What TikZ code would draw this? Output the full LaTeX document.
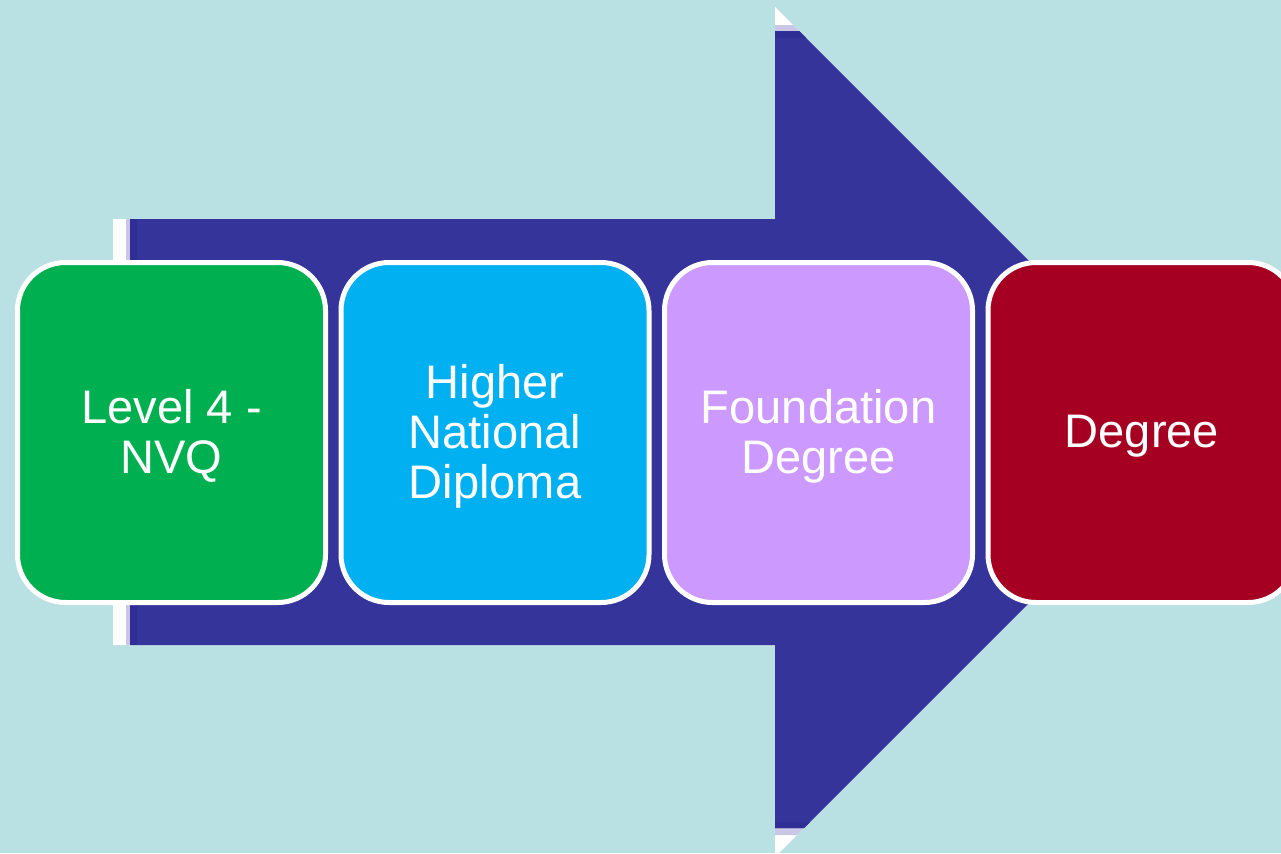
\documentclass[tikz,border=0pt]{standalone}
\usepackage{fontspec}
\setmainfont{Liberation Sans}
\definecolor{bg}{HTML}{B9E0E3}
\definecolor{arrowblue}{HTML}{35349A}
\definecolor{arrowdark}{HTML}{2F2E95}
\definecolor{edgelav}{HTML}{C9C7E5}
\definecolor{boxgreen}{HTML}{00B050}
\definecolor{boxcyan}{HTML}{00B0F0}
\definecolor{boxlilac}{HTML}{CC99FF}
\definecolor{boxred}{HTML}{A50021}
\tikzset{
  stepbox/.style={draw=white, line width=3.75pt, rounded corners=36pt,
    minimum width=231pt, minimum height=255pt, inner sep=0pt},
  steptext/.style={text=white, align=center, inner sep=0pt, yshift=-2.5pt,
    font=\fontsize{35.3pt}{37.5pt}\selectfont}
}
\begin{document}
\begin{tikzpicture}[x=0.75pt,y=-0.75pt]
\useasboundingbox (0,0) rectangle (1281,853);
\clip (0,0) rectangle (1281,853);
\fill[bg] (0,0) rectangle (1281,853);
% arrow: white rim
\fill[white] (113,219) -- (775,219) -- (775,7) -- (1200,432) -- (775,857) -- (775,645) -- (113,645) -- cycle;
% lavender transition bands
\fill[edgelav] (775,25) -- (793,25) -- (799,31) -- (775,31) -- cycle;
\fill[edgelav] (775,828) -- (804,828) -- (797,835) -- (775,835) -- cycle;
\fill[edgelav] (126,219) rectangle (130,645);
% main blue arrow
\fill[arrowblue] (130,219) -- (775,219) -- (775,31) -- (799,31) -- (1200,432) -- (804,828) -- (775,828) -- (775,645) -- (130,645) -- cycle;
% darker edge strips
\fill[arrowdark] (775,31) -- (799,31) -- (806,38) -- (775,38) -- cycle;
\fill[arrowdark] (775,822) -- (810,822) -- (804,828) -- (775,828) -- cycle;
\fill[arrowdark] (130,219) rectangle (137,645);
% boxes
\node[stepbox, fill=boxgreen] (b1) at (171.5,432.5) {};
\node[stepbox, fill=boxcyan] (b2) at (495,432.5) {};
\node[stepbox, fill=boxlilac] (b3) at (818.5,432.5) {};
\node[stepbox, fill=boxred] (b4) at (1142,432.5) {};
\node[steptext] (t1) at (b1.center) {Level 4 -\\NVQ};
\node[steptext] (t2) at (b2.center) {Higher\\National\\Diploma};
\node[steptext] (t3) at (b3.center) {Foundation\\Degree};
\node[steptext] (t4) at (b4.center) {Degree};
\end{tikzpicture}
\end{document}
